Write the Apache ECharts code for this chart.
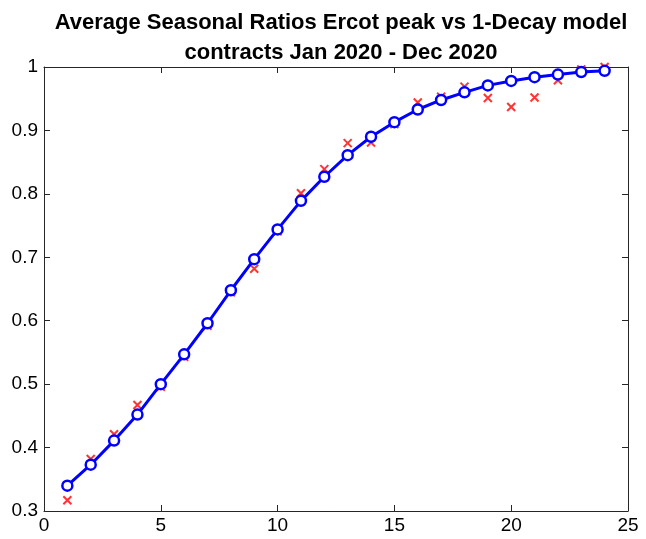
<!DOCTYPE html>
<html>
<head>
<meta charset="utf-8">
<script src="https://cdn.jsdelivr.net/npm/echarts@6/dist/echarts.min.js"></script>
<style>html,body{margin:0;padding:0;background:#fff}#c{width:646px;height:539px}</style>
</head>
<body>
<div id="c"></div>
<script>
const months = [1,2,3,4,5,6,7,8,9,10,11,12,13,14,15,16,17,18,19,20,21,22,23,24];
const observed = [0.317,0.382,0.421,0.467,0.496,0.543,0.592,0.645,0.682,0.741,0.801,0.839,0.880,0.881,0.910,0.944,0.953,0.969,0.951,0.937,0.952,0.979,0.996,1.000];
const model = [0.340,0.373,0.411,0.452,0.500,0.547,0.596,0.648,0.697,0.744,0.789,0.827,0.861,0.890,0.913,0.933,0.948,0.960,0.971,0.978,0.984,0.988,0.992,0.994];
const xTicks = [0,5,10,15,20,25];
const yTicks = [0.3,0.4,0.5,0.6,0.7,0.8,0.9,1];
const titleLines = ['Average Seasonal Ratios Ercot peak vs 1-Decay model','contracts Jan 2020 - Dec 2020'];

const font = 'Liberation Sans, Arial, Helvetica, sans-serif';
const axisCol = '#262626';
const chart = echarts.init(document.getElementById('c'));
const fmtY = v => { const r = Math.round(v*10)/10; return r === 1 ? '1' : String(r); };
const baseAxis = {
  axisLine: {show: true, onZero: false, lineStyle: {color: axisCol, width: 1}},
  axisTick: {show: true, inside: true, length: 6, lineStyle: {color: axisCol, width: 1}},
  splitLine: {show: false}
};
chart.setOption({
  animation: false,
  backgroundColor: '#fff',
  title: {
    text: titleLines.join('\n'),
    left: 336, top: 3, textAlign: 'center',
    textStyle: {fontFamily: font, fontSize: 22, fontWeight: 'bold', color: '#000', lineHeight: 30}
  },
  grid: {left: 44, right: 18, top: 67, bottom: 28, containLabel: false},
  xAxis: [
    Object.assign({}, baseAxis, {type: 'value', min: 0, max: 25, interval: 5, position: 'bottom',
      axisLabel: {fontFamily: font, fontSize: 19, color: '#000', margin: 5}}),
    Object.assign({}, baseAxis, {type: 'value', min: 0, max: 25, interval: 5, position: 'top',
      axisLabel: {show: false}})
  ],
  yAxis: [
    Object.assign({}, baseAxis, {type: 'value', min: 0.3, max: 1, interval: 0.1, position: 'left',
      axisLabel: {fontFamily: font, fontSize: 19, color: '#000', margin: 6, formatter: fmtY}}),
    Object.assign({}, baseAxis, {type: 'value', min: 0.3, max: 1, interval: 0.1, position: 'right',
      axisLabel: {show: false}})
  ],
  series: [
    {
      type: 'scatter',
      data: months.map((m,i) => [m, observed[i]]),
      symbol: 'path://M0,0L10,10M10,0L0,10',
      symbolSize: 8,
      itemStyle: {color: 'rgba(0,0,0,0)', borderColor: '#ff0000', borderWidth: 2},
      z: 2
    },
    {
      type: 'line',
      data: months.map((m,i) => [m, model[i]]),
      symbol: 'circle',
      symbolSize: 10,
      showAllSymbol: true,
      lineStyle: {color: '#0000ff', width: 3},
      itemStyle: {color: '#fff', borderColor: '#0000ff', borderWidth: 2.5},
      z: 3
    }
  ]
});
</script>
</body>
</html>
